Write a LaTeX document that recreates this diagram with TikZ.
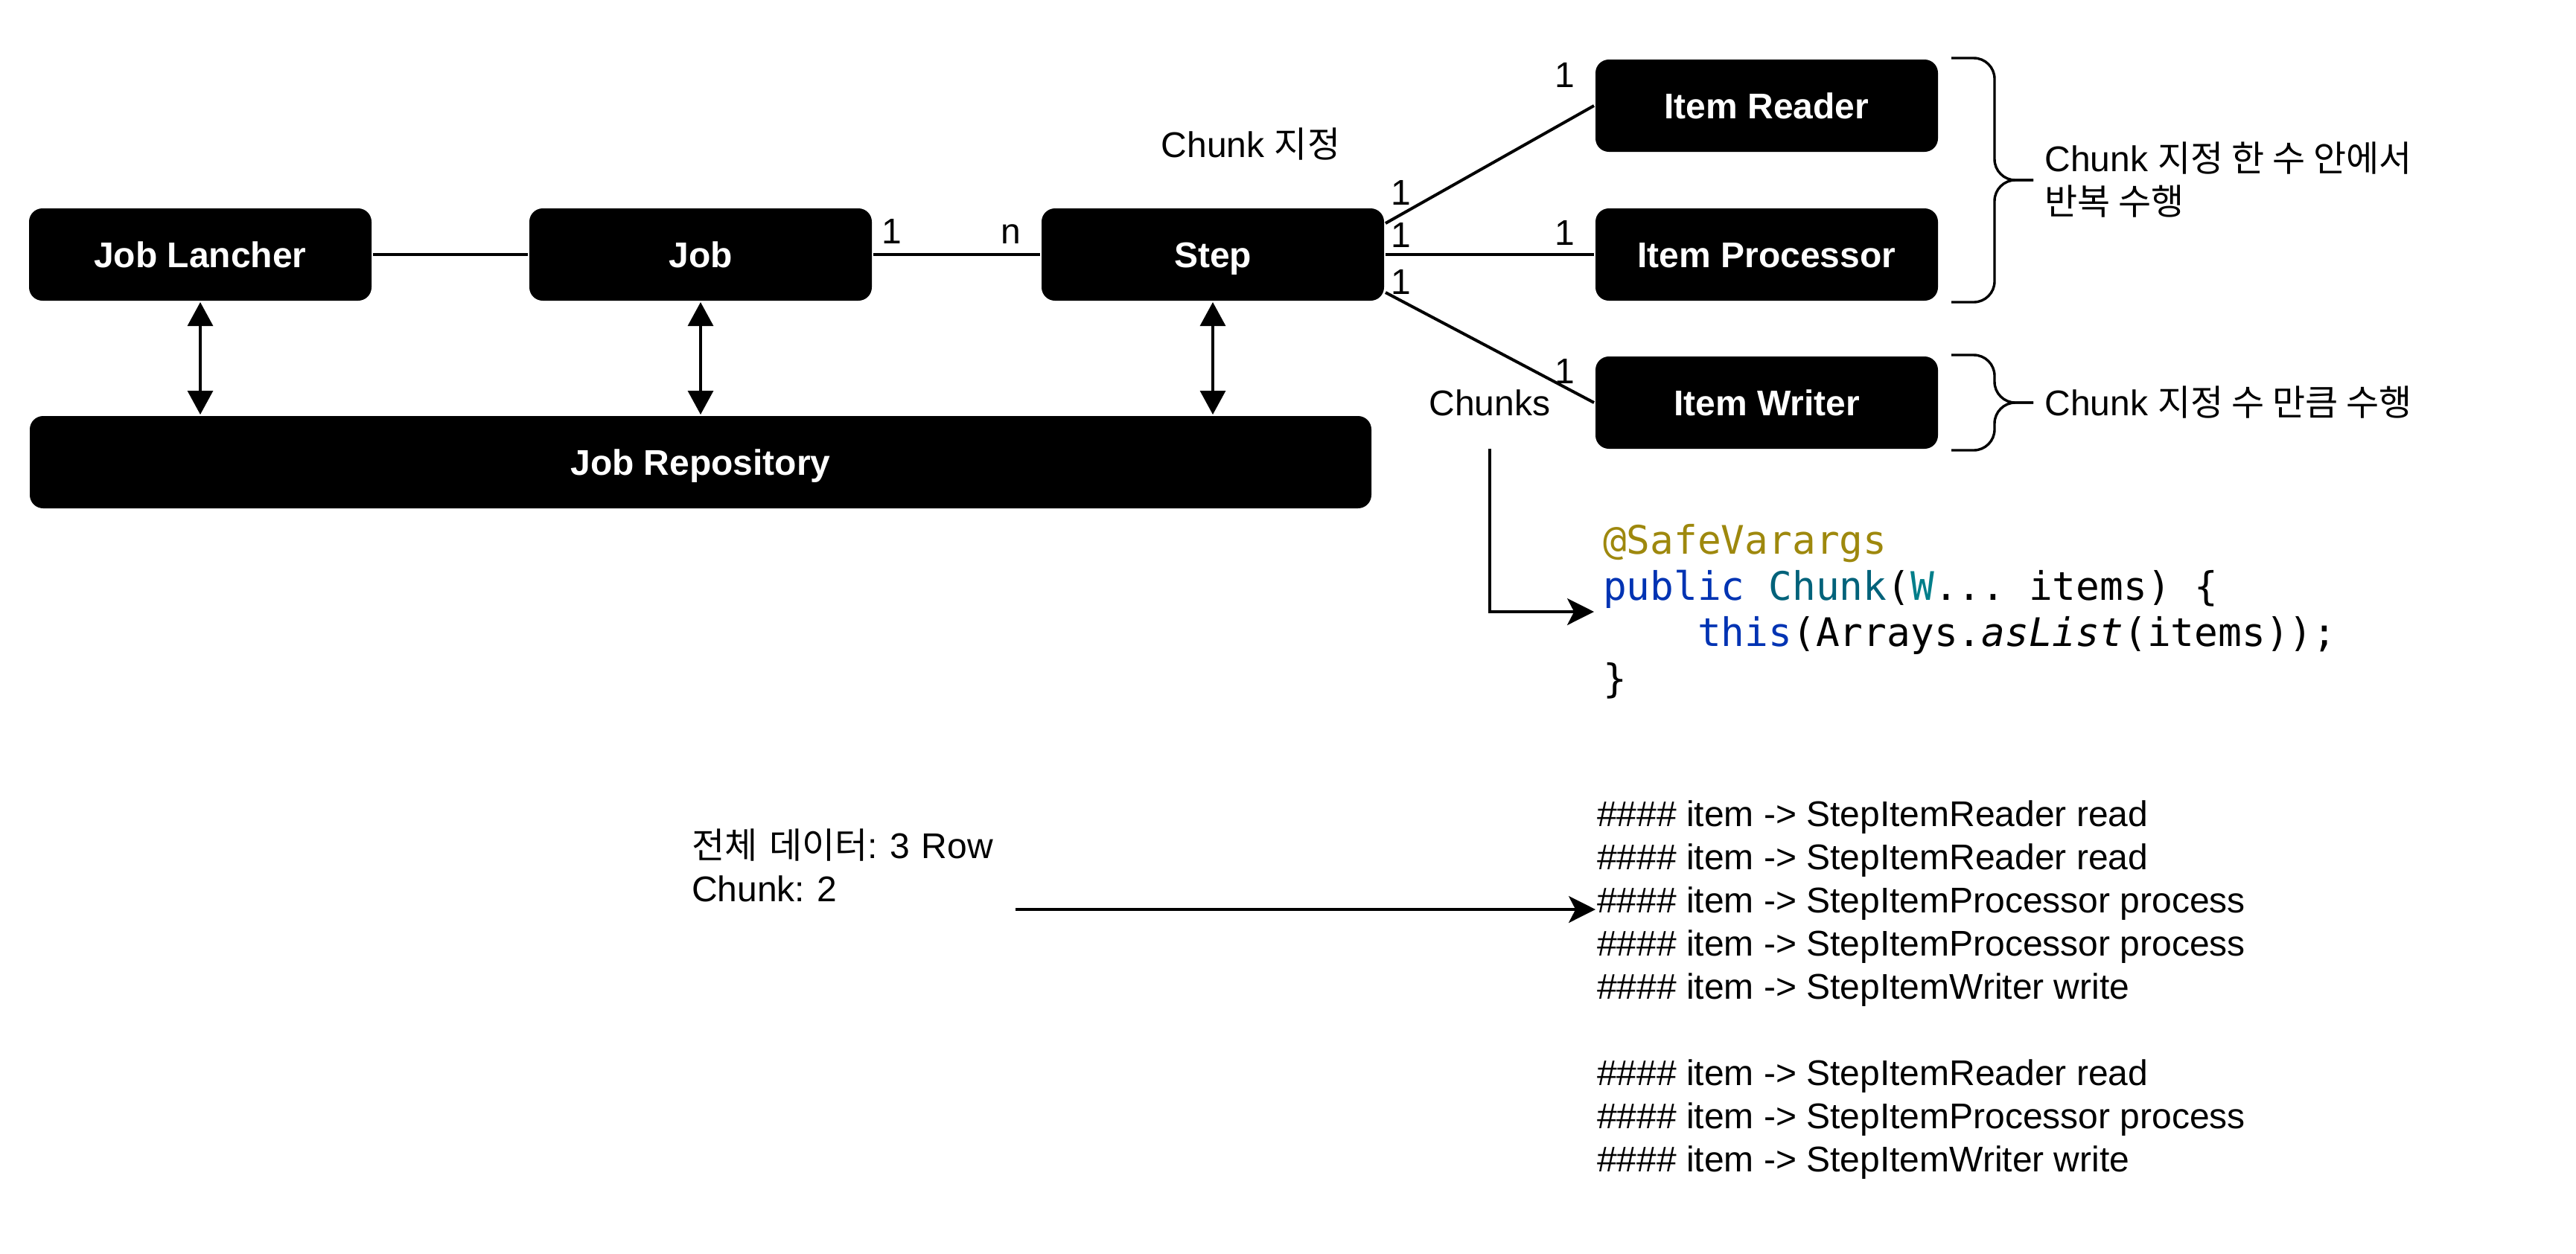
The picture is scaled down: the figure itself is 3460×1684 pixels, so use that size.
\documentclass[tikz,border=0pt]{standalone}
\usepackage{fontspec}
\setmainfont{Liberation Sans}
\newfontfamily\kr{Noto Sans CJK KR}
\newfontfamily\codefont{DejaVu Sans Mono}
\usetikzlibrary{arrows.meta,calc}
\frenchspacing

\definecolor{annot}{HTML}{9E880D}
\definecolor{kw}{HTML}{0033B3}
\definecolor{decl}{HTML}{00627A}
\definecolor{tparam}{HTML}{007E8A}

\begin{document}
\begin{tikzpicture}[x=0.25pt,y=-0.25pt,node distance=170pt,line width=1pt,
    box/.style={rectangle,rounded corners=4.5pt,fill=black,text=white,minimum width=115pt,minimum height=31pt,text height=11pt,text depth=2.4pt,font=\bfseries\fontsize{12}{14.5}\selectfont},
    txt/.style={font=\fontsize{12}{14.5}\selectfont,align=left},
    endl/.style={font=\fontsize{12}{14.5}\selectfont,inner sep=0pt,anchor=base},
    code/.style={font=\codefont\fontsize{13.2}{15.5}\selectfont,align=left,inner sep=2.5pt},
    both/.style={{Triangle[length=8pt,width=8.5pt]}-{Triangle[length=8pt,width=8.5pt]},line width=0.8pt},
    pointer/.style={-{Stealth[length=9pt,width=9pt,inset=2.3pt]},line width=0.9pt},
    brace/.style={rounded corners=7pt,line width=0.85pt}]
    \useasboundingbox (0,0) rectangle (3460,1684);

    \node[box] (lancher) at (269,342) {Job Lancher};
    \node[box] (job) [right of = lancher, xshift=-2pt] {Job};
    \node[box] (step) [right of = job, xshift=2pt] {Step};
    \node[box, minimum width=450.5pt] (repo) [below of = job, node distance=69.75pt] {Job Repository};

    \node[box] (proc) [right of = step, node distance=186pt] {Item Processor};
    \node[box] (reader) [above of = proc, node distance=50pt] {Item Reader};
    \node[box] (writer) [below of = proc, node distance=49.75pt] {Item Writer};

    \node[txt] (chunkset) [above of = step, node distance=37pt, xshift=12.75pt] {Chunk {\kr 지정}};
    \node[txt, minimum height=30pt] (chunks) [left of = writer, node distance=93pt] {Chunks};

    \draw (lancher) -- (job);
    \draw (job) -- node[endl, pos=0, xshift=6.25pt, yshift=3.75pt] {1}
                   node[endl, pos=1, xshift=-9.75pt, yshift=3.75pt] {n} (step);
    \draw ([yshift=10.5pt]step.east) -- node[endl, pos=0, xshift=5.25pt, yshift=6.25pt] {1}
                                       node[endl, pos=1, xshift=-9.75pt, yshift=6.25pt] {1} (reader.west);
    \draw (step) -- node[endl, pos=0, xshift=5.25pt, yshift=2.5pt] {1}
                    node[endl, pos=1, xshift=-9.75pt, yshift=3.25pt] {1} (proc);
    \draw ([yshift=-12.75pt]step.east) -- node[endl, pos=0, xshift=5.25pt, yshift=-0.5pt] {1}
                                        node[endl, pos=1, xshift=-9.75pt, yshift=6.5pt] {1} (writer.west);

    \draw[both] (lancher) -- (lancher |- repo.north);
    \draw[both] (job) -- (repo);
    \draw[both] (step) -- (step |- repo.north);

    % braces on the item boxes
    \coordinate (rtop) at ([xshift=4pt]reader.north east);
    \coordinate (rbot) at ([xshift=4pt]proc.south east);
    \coordinate (rtip) at ($(rtop)!0.5!(rbot)+(27.5pt,0)$);
    \draw[brace] (rtop) -- ++(14.5pt,0) |- (rtip);
    \draw[brace] (rbot) -- ++(14.5pt,0) |- (rtip);
    \node[txt, anchor=west] (loop) at (rtip) {Chunk {\kr 지정 한 수 안에서}\\{\kr 반복 수행}};

    \coordinate (wtop) at ([xshift=4pt]writer.north east);
    \coordinate (wbot) at ([xshift=4pt]writer.south east);
    \coordinate (wtip) at ($(wtop)!0.5!(wbot)+(27.5pt,0)$);
    \draw[brace] (wtop) -- ++(14.5pt,0) |- (wtip);
    \draw[brace] (wbot) -- ++(14.5pt,0) |- (wtip);
    \node[txt, anchor=west] (once) at (wtip) {Chunk {\kr 지정 수 만큼 수행}};

    % chunk constructor
    \node[code, anchor=west] (ctor) at (2141,822) {\textcolor{annot}{@SafeVarargs}\\
        \textcolor{kw}{public} \textcolor{decl}{Chunk}(\textcolor{tparam}{W}... items) \{\\
        \phantom{abcd}\textcolor{kw}{this}(Arrays.\textit{asList}(items));\\
        \}};
    \draw[pointer] (chunks) |- (ctor);

    % sample run
    \node[txt, inner sep=0pt, text width=108.25pt, minimum height=28.5pt] (data) at (1145.5,1163) {{\kr 전체 데이터}: 3 Row\\Chunk: 2};
    \node[txt, inner sep=0pt, anchor=west] (log) at (2143,1330) {\#\#\#\# item -> StepItemReader read\\
        \#\#\#\# item -> StepItemReader read\\
        \#\#\#\# item -> StepItemProcessor process\\
        \#\#\#\# item -> StepItemProcessor process\\
        \#\#\#\# item -> StepItemWriter write\\[14.5pt]
        \#\#\#\# item -> StepItemReader read\\
        \#\#\#\# item -> StepItemProcessor process\\
        \#\#\#\# item -> StepItemWriter write};
    \draw[pointer] (data.south east) -- (data.south east -| log.west);
\end{tikzpicture}
\end{document}
